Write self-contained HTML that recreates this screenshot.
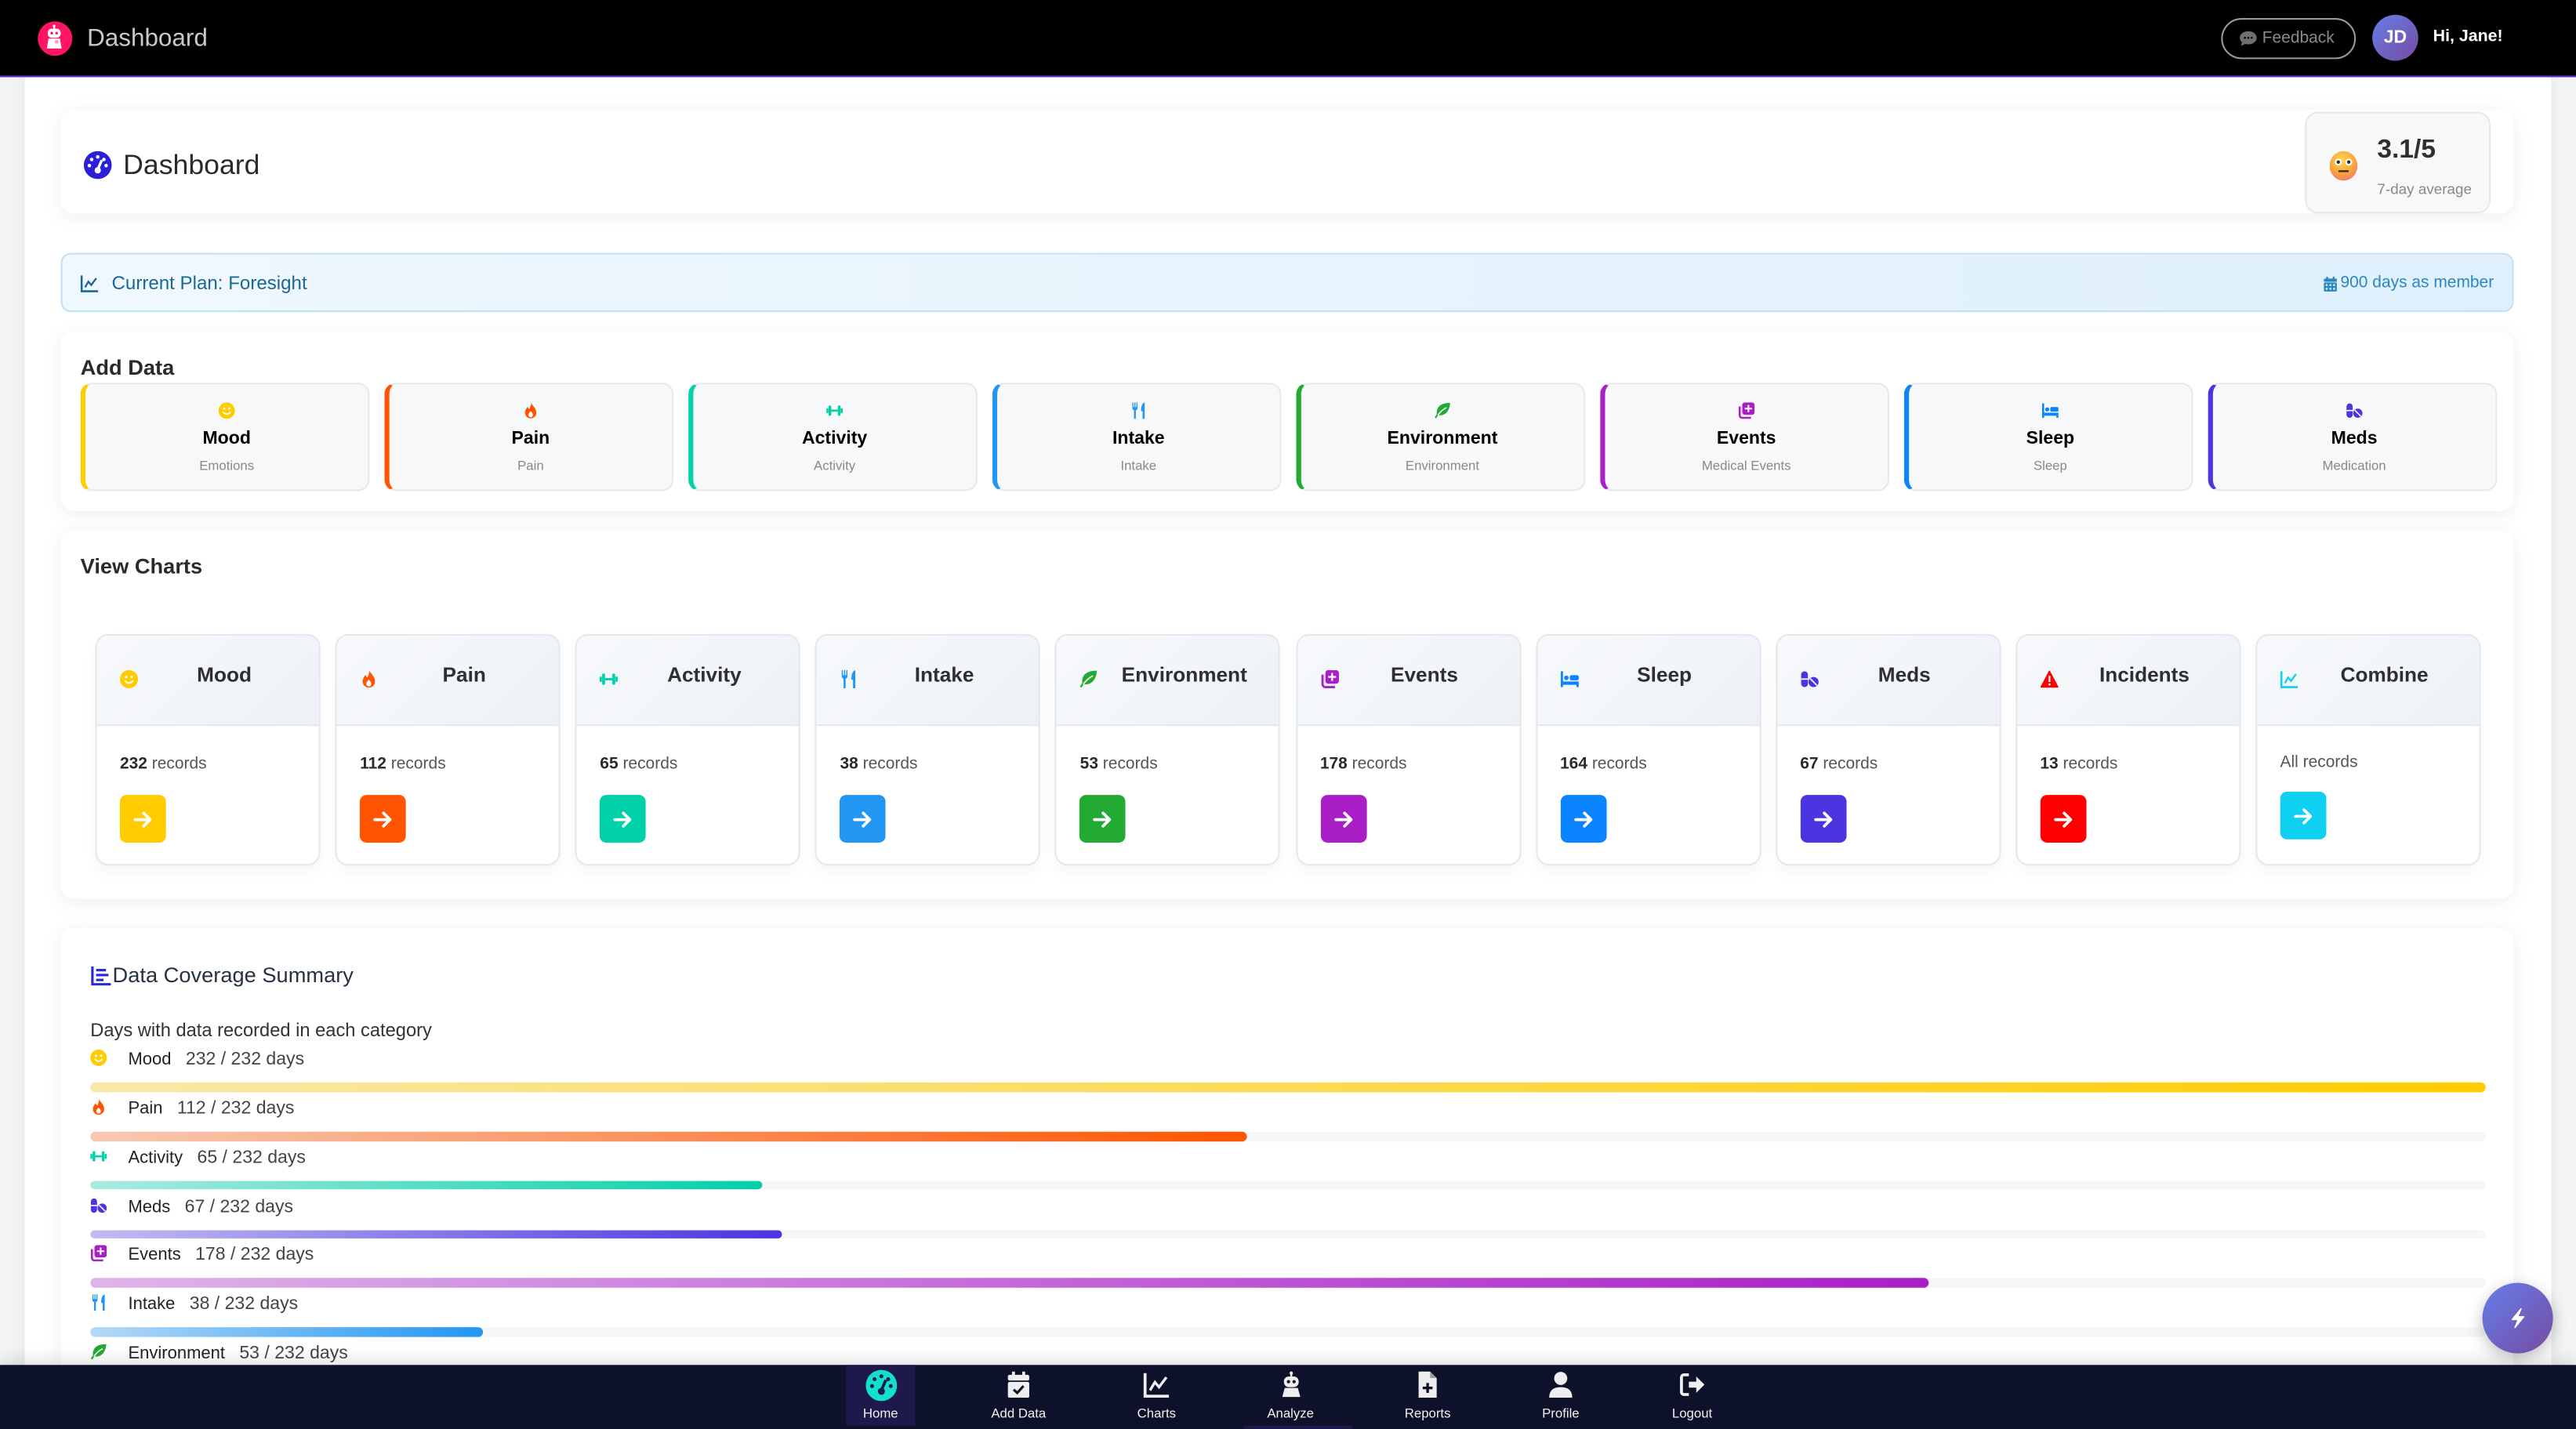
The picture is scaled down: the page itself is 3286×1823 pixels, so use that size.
<!DOCTYPE html>
<html><head><meta charset="utf-8">
<style>
html,body{margin:0;padding:0;width:3286px;height:1823px;overflow:hidden;background:#f3f4f6;}
#s{position:absolute;left:0;top:0;width:1568px;height:870px;transform:scale(2.095663,2.095402);transform-origin:0 0;font-family:"Liberation Sans",Arial,sans-serif;color:#333;overflow:hidden;background:#f3f4f6;}
.a{position:absolute}
svg{display:block}
.nav{left:0;top:0;width:1568px;height:46px;background:#000;border-bottom:1px solid #5a2fd0;z-index:5}
.main{left:15px;top:40px;width:1538px;height:830px;background:#fff;border-radius:10px 10px 0 0;box-shadow:0 0 10px rgba(0,0,0,.06)}
.card{position:absolute;left:37px;width:1493px;background:#fff;border-radius:8px;box-shadow:0 2px 12px rgba(0,0,0,.07)}
.h13{font-size:13px;font-weight:bold;line-height:16px;color:#2b2b2b;white-space:nowrap}
.tile{position:absolute;top:31px;width:172px;height:64px;background:#f7f8fa;border:1px solid #e6e8ec;border-left:3px solid;border-radius:7px;box-sizing:content-box}
.tile .ic{position:absolute;left:50%;margin-left:-5px;top:11px;width:10px;height:10px}
.tile .t{position:absolute;left:0;right:0;top:26px;text-align:center;font-size:11px;font-weight:bold;line-height:14px;color:#000}
.tile .st{position:absolute;left:0;right:0;top:45px;text-align:center;font-size:8px;line-height:10px;color:#888}
.ct{position:absolute;top:63px;width:135px;height:139px;background:#fff;border:1px solid #e3e8ef;border-radius:8px;box-shadow:0 4px 8px rgba(0,0,0,.04);overflow:hidden}
.ct .hd{position:absolute;left:0;top:0;width:100%;height:54px;background:linear-gradient(135deg,#f7f9fc,#edf1f6);border-bottom:1px solid #e3e8ef}
.ct .hi{position:absolute;left:14px;top:21px;width:11px;height:11px}
.ct .ht{position:absolute;left:25px;right:5px;top:16px;text-align:center;font-size:12.5px;font-weight:bold;line-height:16px;color:#2f2f2f;white-space:nowrap}
.ct .rc{position:absolute;left:14px;top:72px;font-size:10px;line-height:13px;color:#555;white-space:nowrap}
.ct .rc b{color:#2a2a2a}
.ct .bt{position:absolute;left:14px;top:97px;width:28px;height:28.5px;border-radius:4px}
.ct .bt svg{position:absolute;left:7px;top:7.5px;width:14px;height:14px}
.row{position:absolute;left:18px;height:14px;white-space:nowrap}
.row .ri{position:absolute;left:0;top:2px;width:10px;height:10px}
.row .rl{position:absolute;left:23px;top:1px;font-size:10.5px;line-height:14px;color:#222}
.bar{position:absolute;left:18px;width:1458px;height:5.7px;border-radius:3px;background:#f5f6f8}
.bar i{position:absolute;left:0;top:0;height:100%;border-radius:3px}
.bn{left:0;top:830.5px;width:1568px;height:39.5px;background:#0d1129;z-index:5;box-shadow:0 -3px 10px rgba(0,0,0,.12)}
.ni{position:absolute;top:0;width:44px;height:39px;margin-left:-22px}
.ni svg{position:absolute;left:14px;top:4px;width:16px;height:16px}
.ni span{position:absolute;left:-10px;right:-10px;top:25px;text-align:center;font-size:8px;line-height:10px;color:#f0f0f0}
</style></head><body>
<div id="s">

<!-- main white container -->
<div class="a main"></div>

<!-- NAVBAR -->
<div class="a nav">
  <div class="a" style="left:22.5px;top:12.5px;width:21px;height:21px;border-radius:50%;background:#ff1464;">
    <svg class="a" style="left:4.5px;top:2.5px;width:12px;height:16px" viewBox="0 0 12 16"><rect x="5.5" y="0" width="1" height="2.5" fill="#fff"/><circle cx="6" cy="0.8" r="0.8" fill="#fff"/><rect x="2" y="2.5" width="8" height="5.5" rx="2.5" fill="#fff"/><circle cx="4.5" cy="5.2" r="0.8" fill="#ff1464"/><circle cx="7.5" cy="5.2" r="0.8" fill="#ff1464"/><path d="M2.5 8.5h7l1 6h-9Z" fill="#fff"/><rect x="6.5" y="9.5" width="2" height="2" fill="#ff9ab8"/></svg>
  </div>
  <div class="a" style="left:53px;top:15px;font-size:15px;line-height:18px;color:#c9c9c9;">Dashboard</div>

  <div class="a" style="left:1352px;top:11px;width:80px;height:23px;border:1px solid #9a9a9a;border-radius:13px;">
    <svg class="a" style="left:10px;top:6px;width:11px;height:11px" viewBox="0 0 16 16"><path d="M8 1.5C3.8 1.5 0.5 4.1 0.5 7.3c0 1.5 0.7 2.8 1.9 3.8L1.5 14.5l3.8-1.8c0.8 0.3 1.8 0.4 2.7 0.4 4.2 0 7.5-2.6 7.5-5.8S12.2 1.5 8 1.5Z" fill="#6f6f6f"/><circle cx="5" cy="7.3" r="0.9" fill="#000"/><circle cx="8" cy="7.3" r="0.9" fill="#000"/><circle cx="11" cy="7.3" r="0.9" fill="#000"/></svg>
    <div class="a" style="left:24px;top:6px;font-size:10px;line-height:12px;color:#8a8a8a;">Feedback</div>
  </div>
  <div class="a" style="left:1444px;top:9px;width:28px;height:28px;border-radius:50%;background:linear-gradient(135deg,#667eea,#764ba2);">
    <div class="a" style="left:0;right:0;top:8px;text-align:center;font-size:11px;font-weight:bold;line-height:12px;color:#fff;">JD</div>
  </div>
  <div class="a" style="left:1481px;top:17px;font-size:10.2px;font-weight:bold;line-height:12px;color:#fff;">Hi, Jane!</div>
</div>

<!-- HEADER CARD -->
<div class="card" style="top:67px;height:63px;">
  <svg class="a" style="left:14px;top:24.5px;width:17px;height:17px" viewBox="0 0 16 16"><circle cx="8" cy="8" r="8" fill="#2c1fd9"/><circle cx="8" cy="3.3" r="1" fill="#fff"/><circle cx="4.5" cy="4.8" r="1" fill="#fff"/><circle cx="3.2" cy="8.3" r="1" fill="#fff"/><circle cx="11.5" cy="4.8" r="1" fill="#fff"/><circle cx="12.8" cy="8.3" r="1" fill="#fff"/><path d="M10.3 5.2L8 10.5" stroke="#fff" stroke-width="1.5"/><circle cx="8" cy="11" r="1.8" fill="#fff"/></svg>
  <div class="a" style="left:38px;top:24px;font-size:17px;line-height:20px;color:#2b2b2b;">Dashboard</div>
  <div class="a" style="left:1366px;top:1px;width:111px;height:60px;background:#f7f8fa;border:1px solid #e6e8ec;border-radius:8px;">
    <svg class="a" style="left:14px;top:23px;width:17px;height:18px" viewBox="0 0 16 17"><defs><radialGradient id="eg" cx="45%" cy="30%" r="75%"><stop offset="0" stop-color="#ffd54f"/><stop offset="0.65" stop-color="#f9a23a"/><stop offset="1" stop-color="#f2737a"/></radialGradient></defs><ellipse cx="8" cy="8.5" rx="8" ry="8.5" fill="url(#eg)"/><circle cx="5" cy="6.3" r="2" fill="#fff"/><circle cx="11" cy="6.3" r="2" fill="#fff"/><circle cx="5" cy="6.3" r="1" fill="#3a2a2a"/><circle cx="11" cy="6.3" r="1" fill="#3a2a2a"/><rect x="5" y="11" width="6" height="1.1" rx=".5" fill="#4a2a2a"/></svg>
    <div class="a" style="left:43px;top:14px;font-size:16px;font-weight:bold;line-height:18px;color:#2f2f2f;">3.1/5</div>
    <div class="a" style="left:43px;top:41px;font-size:9px;line-height:11px;color:#888;">7-day average</div>
  </div>
</div>

<!-- PLAN BANNER -->
<div class="a" style="left:37px;top:154px;width:1491px;height:34px;border:1px solid #bfe2f8;border-radius:6px;background:linear-gradient(90deg,#eff8fe,#dff0fc);">
  <svg class="a" style="left:11px;top:12px;width:11px;height:11px" viewBox="0 0 16 16"><path d="M1 1V15H15.5" stroke="#1a6896" stroke-width="1.8" fill="none"/><path d="M4 11.5L7 6.5L9.5 9.5L14 3.5" stroke="#1a6896" stroke-width="1.6" fill="none"/></svg>
  <div class="a" style="left:30px;top:11px;font-size:11.5px;line-height:14px;color:#1a6896;">Current Plan: Foresight</div>
  <svg class="a" style="left:1376px;top:12.5px;width:9px;height:10px" viewBox="0 0 16 16"><rect x="3.5" y="0" width="2" height="3" fill="#2a87c0"/><rect x="10.5" y="0" width="2" height="3" fill="#2a87c0"/><rect x="1" y="2" width="14" height="3.5" rx="1" fill="#2a87c0"/><rect x="1" y="6.2" width="14" height="9.8" rx="1" fill="#2a87c0"/><g fill="#e0f0fb"><rect x="3" y="8" width="2" height="2"/><rect x="7" y="8" width="2" height="2"/><rect x="11" y="8" width="2" height="2"/><rect x="3" y="12" width="2" height="2"/><rect x="7" y="12" width="2" height="2"/><rect x="11" y="12" width="2" height="2"/></g></svg>
  <div class="a" style="right:11px;top:12px;font-size:10px;line-height:12px;color:#2a87c0;white-space:nowrap;">900 days as member</div>
</div>

<!-- ADD DATA -->
<div class="card" style="top:202px;height:109px;">
  <div class="a h13" style="left:12px;top:14px;">Add Data</div>

  <div class="tile" style="left:12px;border-left-color:#ffcc00;">
    <svg class="ic" viewBox="0 0 16 16"><circle cx="8" cy="8" r="8" fill="#ffcc00"/><circle cx="5.5" cy="6" r="1.1" fill="#fff"/><circle cx="10.5" cy="6" r="1.1" fill="#fff"/><path d="M4.6 9.6Q8 13.2 11.4 9.6" stroke="#fff" stroke-width="1.4" fill="none" stroke-linecap="round"/></svg>
    <div class="t">Mood</div><div class="st">Emotions</div></div>
  <div class="tile" style="left:197px;border-left-color:#ff5500;">
    <svg class="ic" viewBox="0 0 16 16"><path d="M8.5 0C9 3 13.5 5 13.5 10A5.5 5.5 0 0 1 2.5 10C2.5 7.5 4 6 4.8 4.2C5.6 5.6 6.3 6.2 7 6.6C7.4 4.6 8.6 2.6 8.5 0Z" fill="#ff5500"/><path d="M8 8.5C9.3 9.8 10.2 10.8 10.2 12.2A2.2 2.2 0 0 1 5.8 12.2C5.8 10.8 6.8 9.8 8 8.5Z" fill="#fff"/></svg>
    <div class="t">Pain</div><div class="st">Pain</div></div>
  <div class="tile" style="left:382px;border-left-color:#00d1a9;">
    <svg class="ic" viewBox="0 0 16 16"><rect x="0" y="5.5" width="2" height="5" rx="1" fill="#00d1a9"/><rect x="2.2" y="3" width="2.6" height="10" rx="1.2" fill="#00d1a9"/><rect x="4.8" y="7" width="6.4" height="2" fill="#00d1a9"/><rect x="11.2" y="3" width="2.6" height="10" rx="1.2" fill="#00d1a9"/><rect x="14" y="5.5" width="2" height="5" rx="1" fill="#00d1a9"/></svg>
    <div class="t">Activity</div><div class="st">Activity</div></div>
  <div class="tile" style="left:567px;border-left-color:#2196f3;">
    <svg class="ic" viewBox="0 0 16 16"><path d="M2 0h1v4.5h1V0h1v4.5h1V0h1v5.5a2 2 0 0 1-1.6 2V16H3.6V7.5A2 2 0 0 1 2 5.5Z" fill="#2196f3"/><path d="M14 0C11 1 10.5 5 10.5 8.5H12V16h2Z" fill="#2196f3"/></svg>
    <div class="t">Intake</div><div class="st">Intake</div></div>
  <div class="tile" style="left:752px;border-left-color:#22aa33;">
    <svg class="ic" viewBox="0 0 16 16"><path d="M15.5 0.5C6 0.5 2 4.5 2.5 11.5L0.5 14.5L1.8 15.5L3.8 12.5C11 13.5 15 8 15.5 0.5Z" fill="#22aa33"/><path d="M3.5 12.5C6 9 9 6.5 12 5" stroke="#fff" stroke-width="1.2" fill="none"/></svg>
    <div class="t">Environment</div><div class="st">Environment</div></div>
  <div class="tile" style="left:937px;border-left-color:#aa1ec8;">
    <svg class="ic" viewBox="0 0 16 16"><rect x="4" y="0" width="12" height="12" rx="2.5" fill="#aa1ec8"/><path d="M1.5 4v8.5a2.5 2.5 0 0 0 2.5 2.5h8.5" stroke="#aa1ec8" stroke-width="2" fill="none"/><rect x="9.2" y="2.5" width="1.6" height="7" fill="#fff"/><rect x="6.5" y="5.2" width="7" height="1.6" fill="#fff"/></svg>
    <div class="t">Events</div><div class="st">Medical Events</div></div>
  <div class="tile" style="left:1122px;border-left-color:#0a84ff;">
    <svg class="ic" viewBox="0 0 16 16"><path d="M0 1h2v9h14v5h-2v-2H2v2H0Z" fill="#0a84ff"/><circle cx="5" cy="6.8" r="2" fill="#0a84ff"/><rect x="8" y="4.5" width="8" height="4.5" rx="1.5" fill="#0a84ff"/></svg>
    <div class="t">Sleep</div><div class="st">Sleep</div></div>
  <div class="tile" style="left:1307px;border-left-color:#4a35e0;">
    <svg class="ic" viewBox="0 0 16 16"><rect x="0.5" y="1" width="6" height="14" rx="3" fill="#4a35e0"/><rect x="0.5" y="7.3" width="6" height="1.2" fill="#fff"/><circle cx="11.5" cy="10.5" r="4.5" fill="#4a35e0"/><path d="M8.5 7.5L14.5 13.5" stroke="#fff" stroke-width="1.2"/></svg>
    <div class="t">Meds</div><div class="st">Medication</div></div>
</div>

<!-- VIEW CHARTS -->
<div class="card" style="top:323px;height:224px;">
  <div class="a h13" style="left:12px;top:14px;">View Charts</div>

  <div class="ct" style="left:21px;"><div class="hd"></div>
    <svg class="hi" viewBox="0 0 16 16"><circle cx="8" cy="8" r="8" fill="#ffcc00"/><circle cx="5.5" cy="6" r="1.1" fill="#fff"/><circle cx="10.5" cy="6" r="1.1" fill="#fff"/><path d="M4.6 9.6Q8 13.2 11.4 9.6" stroke="#fff" stroke-width="1.4" fill="none" stroke-linecap="round"/></svg>
    <div class="ht">Mood</div><div class="rc"><b>232</b> records</div>
    <div class="bt" style="background:#ffcc00"><svg viewBox="0 0 16 16"><path d="M2.5 8H13M8.5 3.5L13 8L8.5 12.5" stroke="#fff" stroke-width="2" fill="none" stroke-linecap="round" stroke-linejoin="round"/></svg></div></div>

  <div class="ct" style="left:167.1px;"><div class="hd"></div>
    <svg class="hi" viewBox="0 0 16 16"><path d="M8.5 0C9 3 13.5 5 13.5 10A5.5 5.5 0 0 1 2.5 10C2.5 7.5 4 6 4.8 4.2C5.6 5.6 6.3 6.2 7 6.6C7.4 4.6 8.6 2.6 8.5 0Z" fill="#ff5500"/><path d="M8 8.5C9.3 9.8 10.2 10.8 10.2 12.2A2.2 2.2 0 0 1 5.8 12.2C5.8 10.8 6.8 9.8 8 8.5Z" fill="#fff"/></svg>
    <div class="ht">Pain</div><div class="rc"><b>112</b> records</div>
    <div class="bt" style="background:#ff5500"><svg viewBox="0 0 16 16"><path d="M2.5 8H13M8.5 3.5L13 8L8.5 12.5" stroke="#fff" stroke-width="2" fill="none" stroke-linecap="round" stroke-linejoin="round"/></svg></div></div>

  <div class="ct" style="left:313.2px;"><div class="hd"></div>
    <svg class="hi" viewBox="0 0 16 16"><rect x="0" y="5.5" width="2" height="5" rx="1" fill="#00d1a9"/><rect x="2.2" y="3" width="2.6" height="10" rx="1.2" fill="#00d1a9"/><rect x="4.8" y="7" width="6.4" height="2" fill="#00d1a9"/><rect x="11.2" y="3" width="2.6" height="10" rx="1.2" fill="#00d1a9"/><rect x="14" y="5.5" width="2" height="5" rx="1" fill="#00d1a9"/></svg>
    <div class="ht">Activity</div><div class="rc"><b>65</b> records</div>
    <div class="bt" style="background:#00d1a9"><svg viewBox="0 0 16 16"><path d="M2.5 8H13M8.5 3.5L13 8L8.5 12.5" stroke="#fff" stroke-width="2" fill="none" stroke-linecap="round" stroke-linejoin="round"/></svg></div></div>

  <div class="ct" style="left:459.3px;"><div class="hd"></div>
    <svg class="hi" viewBox="0 0 16 16"><path d="M2 0h1v4.5h1V0h1v4.5h1V0h1v5.5a2 2 0 0 1-1.6 2V16H3.6V7.5A2 2 0 0 1 2 5.5Z" fill="#2196f3"/><path d="M14 0C11 1 10.5 5 10.5 8.5H12V16h2Z" fill="#2196f3"/></svg>
    <div class="ht">Intake</div><div class="rc"><b>38</b> records</div>
    <div class="bt" style="background:#2196f3"><svg viewBox="0 0 16 16"><path d="M2.5 8H13M8.5 3.5L13 8L8.5 12.5" stroke="#fff" stroke-width="2" fill="none" stroke-linecap="round" stroke-linejoin="round"/></svg></div></div>

  <div class="ct" style="left:605.4px;"><div class="hd"></div>
    <svg class="hi" viewBox="0 0 16 16"><path d="M15.5 0.5C6 0.5 2 4.5 2.5 11.5L0.5 14.5L1.8 15.5L3.8 12.5C11 13.5 15 8 15.5 0.5Z" fill="#22aa33"/><path d="M3.5 12.5C6 9 9 6.5 12 5" stroke="#fff" stroke-width="1.2" fill="none"/></svg>
    <div class="ht">Environment</div><div class="rc"><b>53</b> records</div>
    <div class="bt" style="background:#22aa33"><svg viewBox="0 0 16 16"><path d="M2.5 8H13M8.5 3.5L13 8L8.5 12.5" stroke="#fff" stroke-width="2" fill="none" stroke-linecap="round" stroke-linejoin="round"/></svg></div></div>

  <div class="ct" style="left:751.5px;"><div class="hd"></div>
    <svg class="hi" viewBox="0 0 16 16"><rect x="4" y="0" width="12" height="12" rx="2.5" fill="#aa1ec8"/><path d="M1.5 4v8.5a2.5 2.5 0 0 0 2.5 2.5h8.5" stroke="#aa1ec8" stroke-width="2" fill="none"/><rect x="9.2" y="2.5" width="1.6" height="7" fill="#fff"/><rect x="6.5" y="5.2" width="7" height="1.6" fill="#fff"/></svg>
    <div class="ht">Events</div><div class="rc"><b>178</b> records</div>
    <div class="bt" style="background:#aa1ec8"><svg viewBox="0 0 16 16"><path d="M2.5 8H13M8.5 3.5L13 8L8.5 12.5" stroke="#fff" stroke-width="2" fill="none" stroke-linecap="round" stroke-linejoin="round"/></svg></div></div>

  <div class="ct" style="left:897.6px;"><div class="hd"></div>
    <svg class="hi" viewBox="0 0 16 16"><path d="M0 1h2v9h14v5h-2v-2H2v2H0Z" fill="#0a84ff"/><circle cx="5" cy="6.8" r="2" fill="#0a84ff"/><rect x="8" y="4.5" width="8" height="4.5" rx="1.5" fill="#0a84ff"/></svg>
    <div class="ht">Sleep</div><div class="rc"><b>164</b> records</div>
    <div class="bt" style="background:#0a84ff"><svg viewBox="0 0 16 16"><path d="M2.5 8H13M8.5 3.5L13 8L8.5 12.5" stroke="#fff" stroke-width="2" fill="none" stroke-linecap="round" stroke-linejoin="round"/></svg></div></div>

  <div class="ct" style="left:1043.7px;"><div class="hd"></div>
    <svg class="hi" viewBox="0 0 16 16"><rect x="0.5" y="1" width="6" height="14" rx="3" fill="#4a35e0"/><rect x="0.5" y="7.3" width="6" height="1.2" fill="#fff"/><circle cx="11.5" cy="10.5" r="4.5" fill="#4a35e0"/><path d="M8.5 7.5L14.5 13.5" stroke="#fff" stroke-width="1.2"/></svg>
    <div class="ht">Meds</div><div class="rc"><b>67</b> records</div>
    <div class="bt" style="background:#4a35e0"><svg viewBox="0 0 16 16"><path d="M2.5 8H13M8.5 3.5L13 8L8.5 12.5" stroke="#fff" stroke-width="2" fill="none" stroke-linecap="round" stroke-linejoin="round"/></svg></div></div>

  <div class="ct" style="left:1189.8px;"><div class="hd"></div>
    <svg class="hi" viewBox="0 0 16 16"><path d="M8 0.8L15.5 15H0.5Z" fill="#f00" stroke="#f00" stroke-linejoin="round"/><rect x="7.2" y="5" width="1.6" height="5.5" fill="#fff"/><circle cx="8" cy="12.6" r="0.95" fill="#fff"/></svg>
    <div class="ht">Incidents</div><div class="rc"><b>13</b> records</div>
    <div class="bt" style="background:#ff0000"><svg viewBox="0 0 16 16"><path d="M2.5 8H13M8.5 3.5L13 8L8.5 12.5" stroke="#fff" stroke-width="2" fill="none" stroke-linecap="round" stroke-linejoin="round"/></svg></div></div>

  <div class="ct" style="left:1335.9px;"><div class="hd"></div>
    <svg class="hi" viewBox="0 0 16 16"><path d="M1 1V15H15.5" stroke="#10d0f2" stroke-width="1.8" fill="none"/><path d="M4 11.5L7 6.5L9.5 9.5L14 3.5" stroke="#10d0f2" stroke-width="1.6" fill="none"/></svg>
    <div class="ht">Combine</div><div class="rc" style="top:71px;">All records</div>
    <div class="bt" style="background:#10d0f2;top:95px;"><svg viewBox="0 0 16 16"><path d="M2.5 8H13M8.5 3.5L13 8L8.5 12.5" stroke="#fff" stroke-width="2" fill="none" stroke-linecap="round" stroke-linejoin="round"/></svg></div></div>
</div>

<!-- DATA COVERAGE -->
<div class="card" style="top:565px;height:305px;border-radius:8px 8px 0 0;">
  <svg class="a" style="left:18px;top:22.5px;width:13px;height:12px" viewBox="0 0 16 16"><path d="M1 0.5V15H16" stroke="#2a2ad0" stroke-width="2" fill="none"/><rect x="4" y="2.5" width="8" height="2" fill="#2a2ad0"/><rect x="4" y="6.5" width="10" height="2" fill="#2a2ad0"/><rect x="4" y="10.5" width="6" height="2" fill="#2a2ad0"/></svg>
  <div class="a" style="left:31.5px;top:21px;font-size:13px;line-height:16px;color:#26323f;white-space:nowrap;">Data Coverage Summary</div>
  <div class="a" style="left:18px;top:56px;font-size:11.3px;line-height:14px;color:#333;white-space:nowrap;">Days with data recorded in each category</div>

  <!-- Mood -->
  <div class="row" style="top:72px;">
    <svg class="ri" viewBox="0 0 16 16"><circle cx="8" cy="8" r="8" fill="#ffcc00"/><circle cx="5.5" cy="6" r="1.1" fill="#fff"/><circle cx="10.5" cy="6" r="1.1" fill="#fff"/><path d="M4.6 9.6Q8 13.2 11.4 9.6" stroke="#fff" stroke-width="1.4" fill="none" stroke-linecap="round"/></svg>
    <div class="rl">Mood&nbsp;&nbsp;&nbsp;<span style="font-size:11px;color:#444;">232 / 232 days</span></div></div>
  <div class="bar" style="top:94px;"><i style="width:1458px;background:linear-gradient(90deg,rgba(255,204,0,.32),#ffcc00);"></i></div>

  <!-- Pain -->
  <div class="row" style="top:101.85px;">
    <svg class="ri" viewBox="0 0 16 16"><path d="M8.5 0C9 3 13.5 5 13.5 10A5.5 5.5 0 0 1 2.5 10C2.5 7.5 4 6 4.8 4.2C5.6 5.6 6.3 6.2 7 6.6C7.4 4.6 8.6 2.6 8.5 0Z" fill="#ff5500"/><path d="M8 8.5C9.3 9.8 10.2 10.8 10.2 12.2A2.2 2.2 0 0 1 5.8 12.2C5.8 10.8 6.8 9.8 8 8.5Z" fill="#fff"/></svg>
    <div class="rl">Pain&nbsp;&nbsp;&nbsp;<span style="font-size:11px;color:#444;">112 / 232 days</span></div></div>
  <div class="bar" style="top:123.85px;"><i style="width:703.9px;background:linear-gradient(90deg,rgba(255,85,0,.28),#ff5500);"></i></div>

  <!-- Activity -->
  <div class="row" style="top:131.7px;">
    <svg class="ri" viewBox="0 0 16 16"><rect x="0" y="5.5" width="2" height="5" rx="1" fill="#00d1a9"/><rect x="2.2" y="3" width="2.6" height="10" rx="1.2" fill="#00d1a9"/><rect x="4.8" y="7" width="6.4" height="2" fill="#00d1a9"/><rect x="11.2" y="3" width="2.6" height="10" rx="1.2" fill="#00d1a9"/><rect x="14" y="5.5" width="2" height="5" rx="1" fill="#00d1a9"/></svg>
    <div class="rl">Activity&nbsp;&nbsp;&nbsp;<span style="font-size:11px;color:#444;">65 / 232 days</span></div></div>
  <div class="bar" style="top:153.7px;"><i style="width:408.5px;background:linear-gradient(90deg,rgba(0,209,169,.3),#00d1a9);"></i></div>

  <!-- Meds -->
  <div class="row" style="top:161.55px;">
    <svg class="ri" viewBox="0 0 16 16"><rect x="0.5" y="1" width="6" height="14" rx="3" fill="#4a35e0"/><rect x="0.5" y="7.3" width="6" height="1.2" fill="#fff"/><circle cx="11.5" cy="10.5" r="4.5" fill="#4a35e0"/><path d="M8.5 7.5L14.5 13.5" stroke="#fff" stroke-width="1.2"/></svg>
    <div class="rl">Meds&nbsp;&nbsp;&nbsp;<span style="font-size:11px;color:#444;">67 / 232 days</span></div></div>
  <div class="bar" style="top:183.55px;"><i style="width:421.1px;background:linear-gradient(90deg,rgba(74,53,224,.3),#4a35e0);"></i></div>

  <!-- Events -->
  <div class="row" style="top:191.4px;">
    <svg class="ri" viewBox="0 0 16 16"><rect x="4" y="0" width="12" height="12" rx="2.5" fill="#aa1ec8"/><path d="M1.5 4v8.5a2.5 2.5 0 0 0 2.5 2.5h8.5" stroke="#aa1ec8" stroke-width="2" fill="none"/><rect x="9.2" y="2.5" width="1.6" height="7" fill="#fff"/><rect x="6.5" y="5.2" width="7" height="1.6" fill="#fff"/></svg>
    <div class="rl">Events&nbsp;&nbsp;&nbsp;<span style="font-size:11px;color:#444;">178 / 232 days</span></div></div>
  <div class="bar" style="top:213.4px;"><i style="width:1118.6px;background:linear-gradient(90deg,rgba(170,30,200,.3),#aa1ec8);"></i></div>

  <!-- Intake -->
  <div class="row" style="top:221.25px;">
    <svg class="ri" viewBox="0 0 16 16"><path d="M2 0h1v4.5h1V0h1v4.5h1V0h1v5.5a2 2 0 0 1-1.6 2V16H3.6V7.5A2 2 0 0 1 2 5.5Z" fill="#2196f3"/><path d="M14 0C11 1 10.5 5 10.5 8.5H12V16h2Z" fill="#2196f3"/></svg>
    <div class="rl">Intake&nbsp;&nbsp;&nbsp;<span style="font-size:11px;color:#444;">38 / 232 days</span></div></div>
  <div class="bar" style="top:243.25px;"><i style="width:238.8px;background:linear-gradient(90deg,rgba(33,150,243,.3),#2196f3);"></i></div>

  <!-- Environment -->
  <div class="row" style="top:251.1px;">
    <svg class="ri" viewBox="0 0 16 16"><path d="M15.5 0.5C6 0.5 2 4.5 2.5 11.5L0.5 14.5L1.8 15.5L3.8 12.5C11 13.5 15 8 15.5 0.5Z" fill="#22aa33"/><path d="M3.5 12.5C6 9 9 6.5 12 5" stroke="#fff" stroke-width="1.2" fill="none"/></svg>
    <div class="rl">Environment&nbsp;&nbsp;&nbsp;<span style="font-size:11px;color:#444;">53 / 232 days</span></div></div>
</div>

<!-- FAB -->
<div class="a" style="left:1511px;top:781px;width:43px;height:43px;border-radius:50%;background:linear-gradient(135deg,#667eea,#764ba2);box-shadow:0 3px 10px rgba(0,0,0,.25);z-index:6;">
  <svg class="a" style="left:15px;top:14px;width:13px;height:15px" viewBox="0 0 16 16"><path d="M10.5 1L4 9h4.5l-2.5 6 6.5-8H8Z" fill="#fff" stroke="#fff" stroke-width="1" stroke-linejoin="round"/></svg>
</div>

<!-- BOTTOM NAV -->
<div class="a bn">
  <div class="a" style="left:514.6px;top:0.5px;width:42.8px;height:37px;background:#1c1a4a;"></div>
  <div class="a" style="left:757px;top:37px;width:66px;height:2.5px;background:#1c1a4a;"></div>
  <div class="ni" style="left:536px;">
    <svg viewBox="0 0 16 16" style="left:12.5px;top:3px;width:19px;height:19px;"><circle cx="8" cy="8" r="8" fill="#12e0cc"/><circle cx="8" cy="3.3" r="1" fill="#1c1a4a"/><circle cx="4.5" cy="4.8" r="1" fill="#1c1a4a"/><circle cx="3.2" cy="8.3" r="1" fill="#1c1a4a"/><circle cx="11.5" cy="4.8" r="1" fill="#1c1a4a"/><circle cx="12.8" cy="8.3" r="1" fill="#1c1a4a"/><path d="M10.3 5.2L8 10.5" stroke="#1c1a4a" stroke-width="1.5"/><circle cx="8" cy="11" r="1.8" fill="#1c1a4a"/></svg>
    <span>Home</span></div>
  <div class="ni" style="left:620px;">
    <svg viewBox="0 0 16 16"><rect x="4" y="0" width="1.8" height="3" fill="#eee"/><rect x="10.2" y="0" width="1.8" height="3" fill="#eee"/><rect x="1.5" y="2" width="13" height="3.5" rx="1" fill="#eee"/><rect x="1.5" y="6.3" width="13" height="9.7" rx="1" fill="#eee"/><path d="M5 11L7.2 13L11 8.8" stroke="#0d1129" stroke-width="1.5" fill="none"/></svg>
    <span>Add Data</span></div>
  <div class="ni" style="left:704px;">
    <svg viewBox="0 0 16 16"><path d="M1 1V15H15.5" stroke="#eee" stroke-width="1.8" fill="none"/><path d="M4 11.5L7 6.5L9.5 9.5L14 3.5" stroke="#eee" stroke-width="1.6" fill="none"/></svg>
    <span>Charts</span></div>
  <div class="ni" style="left:785.5px;">
    <svg viewBox="0 0 16 16"><rect x="7.4" y="0" width="1.2" height="3" fill="#eee"/><circle cx="8" cy="1" r="1" fill="#eee"/><rect x="3.5" y="3" width="9" height="6.5" rx="3" fill="#eee"/><circle cx="6.3" cy="6.2" r="1" fill="#0d1129"/><circle cx="9.7" cy="6.2" r="1" fill="#0d1129"/><path d="M4 10h8l1.5 5.5h-11Z" fill="#eee"/></svg>
    <span>Analyze</span></div>
  <div class="ni" style="left:869px;">
    <svg viewBox="0 0 16 16"><path d="M2.5 0h7l4 4v12h-11Z" fill="#eee"/><path d="M9.5 0v4h4Z" fill="#999"/><rect x="7.2" y="7" width="1.6" height="6" fill="#0d1129"/><rect x="5" y="9.2" width="6" height="1.6" fill="#0d1129"/></svg>
    <span>Reports</span></div>
  <div class="ni" style="left:950px;">
    <svg viewBox="0 0 16 16"><circle cx="8" cy="4.2" r="4" fill="#eee"/><path d="M1 16C1 11 4 9.5 8 9.5S15 11 15 16Z" fill="#eee"/></svg>
    <span>Profile</span></div>
  <div class="ni" style="left:1030px;">
    <svg viewBox="0 0 16 16"><path d="M6 2H3a1.5 1.5 0 0 0-1.5 1.5v9A1.5 1.5 0 0 0 3 14h3" stroke="#eee" stroke-width="1.8" fill="none"/><path d="M6 6.2h4.5V3l5 5-5 5V9.8H6Z" fill="#eee"/></svg>
    <span>Logout</span></div>
</div>

</div>
</body></html>
